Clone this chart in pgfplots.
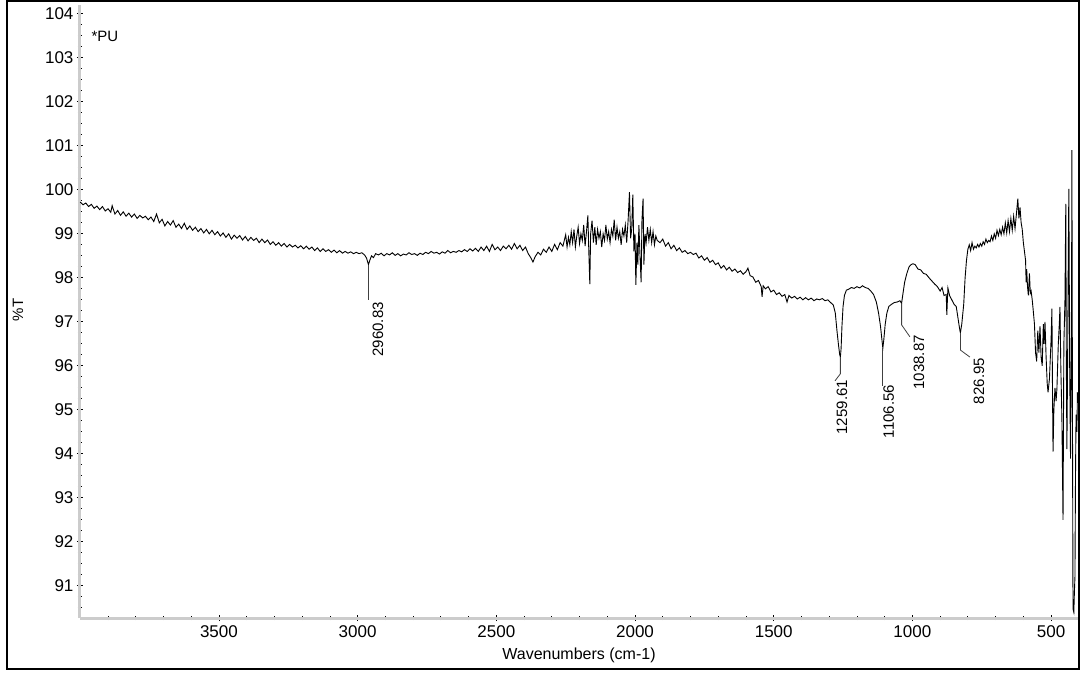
\documentclass[border=0pt]{standalone}
\usepackage{fontspec}
\setmainfont{Liberation Sans}
\usepackage{pgfplots}
\usepackage{pgfplotstable}
\pgfplotsset{compat=1.18}

% FTIR spectrum of *PU: wavenumber (cm-1), %T
\pgfplotstableread{
wn T
4000 99.72
3990 99.66
3980 99.70
3970 99.62
3960 99.67
3950 99.58
3940 99.63
3930 99.55
3920 99.62
3910 99.52
3900 99.57
3890 99.49
3885 99.64
3875 99.45
3865 99.53
3855 99.42
3845 99.50
3835 99.40
3825 99.47
3815 99.38
3805 99.45
3795 99.35
3785 99.42
3775 99.36
3765 99.40
3755 99.32
3745 99.38
3735 99.28
3725 99.45
3715 99.25
3705 99.33
3695 99.18
3685 99.28
3675 99.20
3665 99.30
3655 99.15
3645 99.22
3635 99.12
3625 99.24
3615 99.10
3605 99.18
3595 99.08
3585 99.15
3575 99.05
3565 99.12
3555 99.02
3545 99.10
3535 99.00
3525 99.08
3515 98.98
3505 99.05
3495 98.95
3485 99.02
3475 98.92
3465 99.00
3455 98.88
3445 98.97
3435 98.90
3425 98.96
3415 98.86
3405 98.94
3395 98.84
3385 98.92
3375 98.85
3365 98.90
3355 98.80
3345 98.88
3335 98.80
3325 98.86
3315 98.76
3305 98.82
3295 98.74
3285 98.80
3275 98.72
3265 98.78
3255 98.70
3245 98.76
3235 98.70
3225 98.74
3215 98.68
3205 98.73
3195 98.66
3185 98.72
3175 98.65
3165 98.70
3155 98.62
3145 98.68
3135 98.60
3125 98.66
3115 98.60
3105 98.64
3095 98.58
3085 98.63
3075 98.57
3065 98.62
3055 98.56
3045 98.60
3035 98.56
3025 98.59
3015 98.55
3005 98.58
2995 98.55
2985 98.57
2975 98.52
2968 98.45
2961 98.30
2956 98.40
2950 98.50
2943 98.46
2935 98.55
2925 98.52
2915 98.56
2905 98.50
2895 98.55
2885 98.52
2875 98.57
2865 98.51
2855 98.55
2845 98.50
2835 98.54
2825 98.52
2815 98.57
2805 98.53
2795 98.55
2785 98.51
2775 98.56
2765 98.53
2755 98.58
2745 98.55
2735 98.60
2725 98.56
2715 98.58
2705 98.54
2695 98.59
2685 98.56
2675 98.62
2665 98.57
2655 98.60
2645 98.58
2635 98.62
2625 98.59
2615 98.64
2605 98.60
2595 98.66
2585 98.61
2575 98.67
2565 98.60
2555 98.70
2545 98.62
2535 98.72
2525 98.60
2515 98.76
2505 98.64
2495 98.70
2485 98.62
2475 98.72
2465 98.66
2455 98.74
2445 98.65
2435 98.78
2425 98.66
2415 98.74
2405 98.62
2395 98.70
2385 98.55
2375 98.45
2368 98.36
2360 98.48
2350 98.58
2340 98.52
2330 98.65
2320 98.58
2310 98.70
2300 98.60
2290 98.76
2280 98.64
2270 98.80
2260 98.72
2250 98.98
2245 98.70
2240 98.92
2235 98.75
2230 99.05
2225 98.80
2220 99.10
2215 98.70
2210 98.95
2205 99.15
2200 98.78
2195 99.00
2190 98.85
2185 99.20
2180 98.72
2175 99.05
2170 99.42
2167 98.70
2163 97.86
2160 99.00
2155 99.30
2150 98.80
2145 99.15
2140 98.75
2135 99.10
2130 98.90
2125 99.05
2120 98.70
2115 99.00
2110 98.85
2105 99.20
2100 98.88
2095 99.05
2090 98.80
2085 99.10
2080 98.95
2075 99.32
2070 98.85
2065 99.15
2060 98.90
2055 99.05
2050 98.75
2045 99.10
2040 98.95
2035 99.20
2030 98.80
2025 99.30
2020 99.95
2016 98.90
2012 99.10
2008 99.89
2004 98.60
2000 99.00
1997 97.84
1993 98.80
1990 98.30
1986 99.20
1982 98.50
1978 97.90
1975 99.30
1971 99.80
1968 98.30
1964 99.00
1960 98.80
1955 99.15
1950 98.85
1945 99.10
1940 98.80
1935 99.05
1930 98.75
1925 98.95
1920 98.85
1910 98.80
1900 98.88
1890 98.72
1880 98.80
1870 98.66
1860 98.74
1850 98.62
1840 98.68
1830 98.58
1820 98.62
1810 98.55
1800 98.58
1790 98.53
1780 98.56
1770 98.45
1760 98.50
1750 98.40
1740 98.46
1730 98.35
1720 98.40
1710 98.30
1700 98.34
1690 98.22
1680 98.28
1670 98.18
1660 98.24
1650 98.15
1640 98.20
1630 98.12
1620 98.16
1610 98.08
1600 98.14
1593 98.22
1585 98.05
1575 98.02
1565 97.90
1555 97.94
1545 97.80
1542 97.57
1538 97.82
1530 97.75
1520 97.80
1510 97.68
1500 97.72
1490 97.62
1480 97.66
1470 97.58
1460 97.62
1452 97.45
1445 97.60
1435 97.54
1425 97.58
1415 97.52
1405 97.56
1395 97.50
1385 97.55
1375 97.50
1365 97.54
1355 97.48
1345 97.52
1335 97.50
1325 97.53
1315 97.48
1305 97.50
1295 97.44
1285 97.38
1278 97.20
1272 96.80
1266 96.45
1262 96.25
1259.6 96.20
1257 96.40
1254 96.90
1250 97.35
1245 97.60
1238 97.72
1230 97.74
1220 97.78
1210 97.76
1200 97.80
1190 97.77
1180 97.82
1170 97.78
1160 97.76
1150 97.70
1140 97.62
1130 97.45
1122 97.20
1115 96.90
1110 96.60
1106.6 96.40
1103 96.60
1098 96.95
1092 97.20
1085 97.35
1075 97.40
1065 97.44
1055 97.45
1045 97.48
1039 97.42
1035 97.60
1028 97.90
1020 98.10
1012 98.25
1005 98.30
998 98.32
990 98.30
980 98.20
970 98.18
960 98.10
950 98.08
940 98.00
930 97.93
920 97.86
910 97.80
900 97.70
893 97.78
886 97.60
878 97.62
876 97.16
872 97.77
866 97.60
858 97.50
850 97.40
842 97.35
836 97.10
830 96.85
827 96.75
822 96.95
815 97.40
810 98.00
805 98.40
800 98.65
795 98.75
790 98.62
785 98.80
780 98.65
775 98.72
770 98.68
765 98.76
760 98.70
755 98.78
750 98.72
745 98.82
740 98.76
735 98.88
730 98.80
725 98.85
720 98.82
715 98.95
710 98.85
705 99.00
700 98.90
695 99.08
690 98.96
685 99.10
680 98.98
675 99.15
670 99.00
665 99.25
660 99.02
655 99.30
650 99.05
645 99.35
640 99.08
635 99.40
630 99.12
625 99.45
620 99.80
616 99.35
612 99.60
608 99.25
604 99.10
600 98.80
596 98.60
592 98.40
590 97.90
588 98.20
585 97.80
582 97.60
578 98.10
575 97.65
572 97.70
568 97.50
565 97.30
560 96.95
556 96.30
552 96.10
548 96.80
544 96.30
540 96.90
536 96.20
532 96.00
528 96.95
525 96.50
522 97.00
518 96.20
514 95.60
511 95.40
506 95.70
500 96.60
497 97.30
495 95.50
493 94.05
490 95.00
486 95.50
482 95.20
479 95.48
474 96.50
470 97.00
468 97.34
465 96.00
461 94.80
457 92.50
454 96.48
450 97.50
447 99.68
445 96.00
443 94.11
440 96.50
438 98.50
436 100.02
433 96.00
430 93.89
428 95.50
426 98.00
425 100.90
423 95.00
421 90.48
418 90.40
416 90.86
414 91.20
412 93.50
410 94.89
407 94.50
405 95.40
}\spectrum

\begin{document}
\begin{tikzpicture}[font=\fontsize{15}{17}\selectfont]
\useasboundingbox (0,0) rectangle (1083pt,673pt);
\begin{axis}[
  at={(80pt,55pt)}, anchor=south west,
  scale only axis, width=998pt, height=613pt,
  x dir=reverse, xmin=403, xmax=4001, ymin=90.27, ymax=104.2,
  axis lines=left, axis line style={-, draw=black!20, line width=3pt},
  xtick={500,1000,...,3500},
  minor xtick={600,700,800,900,1100,1200,1300,1400,1600,1700,1800,1900,2100,2200,2300,2400,2600,2700,2800,2900,3100,3200,3300,3400,3600,3700,3800,3900},
  ytick={91,92,...,104},
  minor ytick={90.5,90.75,91.25,91.5,91.75,92.25,92.5,92.75,93.25,93.5,93.75,94.25,94.5,94.75,95.25,95.5,95.75,96.25,96.5,96.75,97.25,97.5,97.75,98.25,98.5,98.75,99.25,99.5,99.75,100.25,100.5,100.75,101.25,101.5,101.75,102.25,102.5,102.75,103.25,103.5,103.75},
  tick style={black, line width=0.8pt},
  major tick length=6pt, minor tick length=4pt, tick align=center,
  tick label style={font=\fontsize{17}{19}\selectfont},
  xticklabel style={yshift=-1pt},
  /pgf/number format/assume math mode=true,
  /pgf/number format/1000 sep={},
  scaled ticks=false,
]
\addplot[black, line width=0.9pt, sharp plot] table[x=wn, y=T] {\spectrum};

% peak leaders and labels
\draw[black!75, line width=0.8pt] (axis cs:2960.83,98.30) -- (axis cs:2960.83,97.50);
\node[rotate=90, anchor=east, inner sep=0pt] at (axis cs:2927,97.45) {2960.83};
\draw[black!75, line width=0.8pt] (axis cs:1259.61,96.20) -- (axis cs:1259.61,95.82) -- (axis cs:1279,95.66);
\node[rotate=90, anchor=east, inner sep=0pt] at (axis cs:1254,95.68) {1259.61};
\draw[black!75, line width=0.8pt] (axis cs:1106.56,96.40) -- (axis cs:1106.56,95.55);
\node[rotate=90, anchor=east, inner sep=0pt] at (axis cs:1085,95.57) {1106.56};
\draw[black!75, line width=0.8pt] (axis cs:1038.87,97.42) -- (axis cs:1038.87,96.93) -- (axis cs:1009,96.66);
\node[rotate=90, anchor=east, inner sep=0pt] at (axis cs:976,96.70) {1038.87};
\draw[black!75, line width=0.8pt] (axis cs:826.95,96.75) -- (axis cs:826.95,96.36) -- (axis cs:793,96.20);
\node[rotate=90, anchor=east, inner sep=0pt] at (axis cs:760,96.18) {826.95};
\end{axis}
\node[anchor=base west] at (88pt,631pt) {*PU};
\node[rotate=90] at (18pt,363pt) {\%T};
\node[font=\fontsize{16}{18}\selectfont] at (579pt,18pt) {Wavenumbers (cm-1)};
\draw[line width=2.5pt] (7pt,4pt) rectangle (1079pt,672pt);
\end{tikzpicture}
\end{document}
